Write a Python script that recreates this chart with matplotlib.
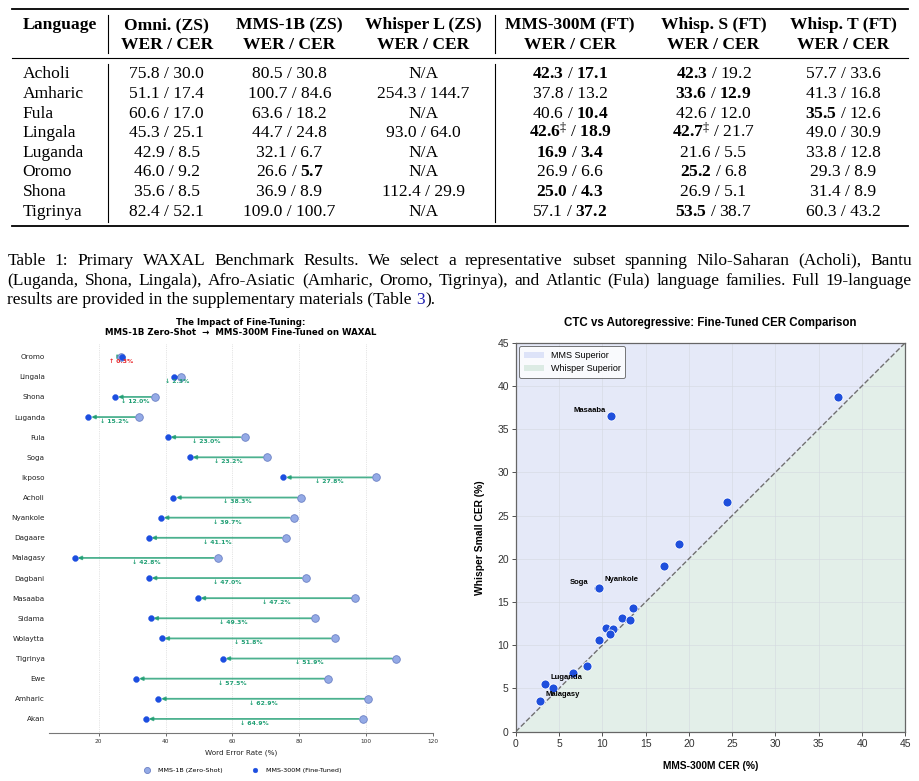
import numpy as np
import matplotlib
matplotlib.use('Agg')
import matplotlib.pyplot as plt
from matplotlib.patches import Patch

plt.rcParams['mathtext.fontset'] = 'custom'
plt.rcParams['mathtext.rm'] = 'Liberation Serif'
plt.rcParams['mathtext.bf'] = 'Liberation Serif:bold'
plt.rcParams['mathtext.it'] = 'Liberation Serif:italic'

# ---------------- table data ----------------
tbl_langs = ['Acholi', 'Amharic', 'Fula', 'Lingala', 'Luganda', 'Oromo', 'Shona', 'Tigrinya']
tbl_heads = ['Omni. (ZS)', 'MMS-1B (ZS)', 'Whisper L (ZS)', 'MMS-300M (FT)', 'Whisp. S (FT)', 'Whisp. T (FT)']
# '*' marks a bold number, '^' a double-dagger
omni = ['75.8 / 30.0', '51.1 / 17.4', '60.6 / 17.0', '45.3 / 25.1', '42.9 / 8.5', '46.0 / 9.2', '35.6 / 8.5', '82.4 / 52.1']
mms1b = ['80.5 / 30.8', '100.7 / 84.6', '63.6 / 18.2', '44.7 / 24.8', '32.1 / 6.7', '26.6 / *5.7', '36.9 / 8.9', '109.0 / 100.7']
whisper_l = ['N/A', '254.3 / 144.7', 'N/A', '93.0 / 64.0', 'N/A', 'N/A', '112.4 / 29.9', 'N/A']
mms300m = ['*42.3 / *17.1', '37.8 / 13.2', '40.6 / *10.4', '*42.6^ / *18.9', '*16.9 / *3.4', '26.9 / 6.6', '*25.0 / *4.3', '57.1 / *37.2']
whisp_s = ['*42.3 / 19.2', '*33.6 / *12.9', '42.6 / 12.0', '*42.7^ / 21.7', '21.6 / 5.5', '*25.2 / 6.8', '26.9 / 5.1', '*53.5 / 38.7']
whisp_t = ['57.7 / 33.6', '41.3 / 16.8', '*35.5 / 12.6', '49.0 / 30.9', '33.8 / 12.8', '29.3 / 8.9', '31.4 / 8.9', '60.3 / 43.2']
tbl_cols = [omni, mms1b, whisper_l, mms300m, whisp_s, whisp_t]

caption_lines = [
    'Table 1:  Primary WAXAL Benchmark Results.  We select a representative subset spanning Nilo-Saharan (Acholi), Bantu',
    '(Luganda, Shona, Lingala), Afro-Asiatic (Amharic, Oromo, Tigrinya), and Atlantic (Fula) language families. Full 19-language',
]
caption_last = ['results are provided in the supplementary materials (Table ', '3', ').']

# ---------------- dumbbell data ----------------
wer_langs = ['Oromo', 'Lingala', 'Shona', 'Luganda', 'Fula', 'Soga', 'Ikposo', 'Acholi', 'Nyankole',
             'Dagaare', 'Malagasy', 'Dagbani', 'Masaaba', 'Sidama', 'Wolaytta', 'Tigrinya', 'Ewe',
             'Amharic', 'Akan']
zs_wer = [26.6, 44.7, 36.9, 32.1, 63.6, 70.4, 103.0, 80.6, 78.3, 76.0, 55.6, 82.0, 96.8, 84.8, 90.6,
          109.0, 88.7, 100.7, 99.0]
ft_wer = [26.9, 42.4, 24.9, 16.9, 40.6, 47.2, 75.2, 42.3, 38.6, 34.9, 12.8, 35.0, 49.6, 35.5, 38.8,
          57.1, 31.2, 37.8, 34.1]

# ---------------- scatter data ----------------
cer_langs = ['Masaaba', 'Tigrinya', 'Ikposo', 'Lingala', 'Acholi', 'Soga', 'Nyankole', 'Akan', 'Ewe',
             'Amharic', 'Fula', 'Wolaytta', 'Sidama', 'Dagbani', 'Dagaare', 'Oromo', 'Luganda',
             'Shona', 'Malagasy']
cer_mms = [11.0, 37.2, 24.4, 18.9, 17.1, 9.5, 9.6, 13.6, 12.3, 13.2, 10.4, 11.2, 10.9, 9.6, 8.2,
           6.6, 3.4, 4.3, 2.8]
cer_whisper = [36.5, 38.7, 26.6, 21.7, 19.2, 16.6, 16.6, 14.3, 13.2, 12.9, 12.0, 11.9, 11.3, 10.6,
               7.6, 6.8, 5.5, 5.1, 3.5]
cer_notes = {'Masaaba': (-4, 4, 'right'), 'Soga': (-7, 4, 'right'), 'Nyankole': (4, 6, 'left'),
             'Luganda': (4, 5, 'left'), 'Malagasy': (4, 5, 'left')}

fig = plt.figure(figsize=(9.2, 7.81), dpi=100)
page = fig.add_axes([0, 0, 1, 1], zorder=-1)
page.set_xlim(0, 920)
page.set_ylim(781, 0)
page.axis('off')
r = fig.canvas.get_renderer()


def cell_text(s):
    if s == 'N/A':
        return s
    out = []
    for part in s.split(' / '):
        dag = part.endswith('^')
        part = part.rstrip('^')
        if part.startswith('*'):
            t = r'$\mathbf{' + part[1:] + '}' + (r'^{\ddag}' if dag else '') + '$'
        else:
            t = part + (r'$^{\ddag}$' if dag else '')
        out.append(t)
    return ' / '.join(out)


serif = 'Liberation Serif'
fs_tbl = 12.6
col_x = [166.7, 289.5, 423.5, 570, 713.5, 843.5]
row_base = 78.3 + 19.6 * np.arange(len(tbl_langs))

# rules
page.plot([12, 908], [8.5, 8.5], color='black', lw=1.3)
page.plot([12, 908], [58.3, 58.3], color='black', lw=0.8)
page.plot([12, 908], [225.7, 225.7], color='black', lw=1.3)
for vx in [108.3, 495]:
    page.plot([vx, vx], [15, 53], color='black', lw=0.8)
    page.plot([vx, vx], [64, 221.5], color='black', lw=0.8)

page.text(22.7, 29, 'Language', family=serif, weight='bold', fontsize=fs_tbl, va='baseline', ha='left')
for cx, h in zip(col_x, tbl_heads):
    page.text(cx, 29, h, family=serif, weight='bold', fontsize=fs_tbl, va='baseline', ha='center')
    page.text(cx, 49, 'WER / CER', family=serif, weight='bold', fontsize=fs_tbl, va='baseline', ha='center')
for ry, lang in zip(row_base, tbl_langs):
    page.text(22.7, ry, lang, family=serif, fontsize=fs_tbl, va='baseline', ha='left')
for cx, col in zip(col_x, tbl_cols):
    for ry, s in zip(row_base, col):
        page.text(cx, ry, cell_text(s), family=serif, fontsize=fs_tbl, va='baseline', ha='center')

# caption, justified
fs_cap = 12.5
cap_base = [264.7, 284.6]
for ly, line in zip(cap_base, caption_lines):
    words = line.split()
    texts = [page.text(0, ly, w, family=serif, fontsize=fs_cap, va='baseline') for w in words]
    widths = [t.get_window_extent(r).width for t in texts]
    gap = (912 - 7.5 - sum(widths)) / (len(words) - 1)
    x = 7.5
    for t, w in zip(texts, widths):
        t.set_x(x)
        x += w + gap
x = 7.5
for piece, c in zip(caption_last, ['black', '#1f1fb0', 'black']):
    t = page.text(x, 304.5, piece, family=serif, fontsize=fs_cap, va='baseline', color=c)
    x += t.get_window_extent(r).width

# ---------------- left: dumbbell ----------------
green = '#1f9e73'
ax1 = fig.add_axes([49 / 920, 1 - 733 / 781, 384 / 920, 390 / 781])
y = np.arange(len(wer_langs))
for i in range(len(wer_langs)):
    ax1.annotate('', xy=(ft_wer[i], y[i]), xytext=(zs_wer[i], y[i]),
                 arrowprops=dict(arrowstyle='-|>', color=green, lw=1.3, alpha=0.8,
                                 mutation_scale=5, shrinkA=3, shrinkB=2), zorder=2)
    d = zs_wer[i] - ft_wer[i]
    if d >= 0:
        lab, col = '\u2193 %.1f%%' % abs(d), green
    else:
        lab, col = '\u2191 %.1f%%' % abs(d), '#e8272b'
    ax1.text((zs_wer[i] + ft_wer[i]) / 2, y[i] + 0.22, lab, color=col, fontsize=4.4,
             weight='bold', ha='center', va='center', zorder=4)
ax1.scatter(zs_wer, y, s=30, color='#94aae6', edgecolor='#6b80c4', lw=0.6, zorder=3,
            label='MMS-1B (Zero-Shot)')
ax1.scatter(ft_wer, y, s=18, color='#1c4ee0', edgecolor='#1c4ee0', lw=0.3, zorder=3,
            label='MMS-300M (Fine-Tuned)')
ax1.set_yticks(y)
ax1.set_yticklabels(wer_langs, fontsize=5.2, color='#222222')
ax1.set_ylim(18.7, -0.68)
ax1.set_xlim(5.1, 120)
ax1.set_xticks([20, 40, 60, 80, 100, 120])
ax1.tick_params(axis='x', labelsize=4.2, colors='#333333', length=2, width=0.5, pad=2)
ax1.tick_params(axis='y', length=0, pad=3)
for s in ['top', 'right', 'left']:
    ax1.spines[s].set_visible(False)
ax1.spines['bottom'].set_color('#777777')
ax1.spines['bottom'].set_linewidth(0.8)
ax1.grid(axis='x', linestyle=':', color='#cccccc', lw=0.5)
ax1.set_axisbelow(True)
ax1.set_xlabel('Word Error Rate (%)', fontsize=5.2, color='#222222', labelpad=4)
ax1.set_title('The Impact of Fine-Tuning:\nMMS-1B Zero-Shot  \u2192  MMS-300M Fine-Tuned on WAXAL',
              fontsize=6.2, weight='bold', pad=6, linespacing=1.1)
ax1.legend(loc='center', bbox_to_anchor=(0.5, -0.095), ncol=2, frameon=False, fontsize=4.6,
           columnspacing=4, handletextpad=0.8, markerscale=0.8)

# ---------------- right: scatter ----------------
sans = 'Liberation Sans'
ax2 = fig.add_axes([515.7 / 920, 1 - 731.7 / 781, 389.6 / 920, 389 / 781])
ax2.fill_between([0, 45], [0, 45], [45, 45], color='#e5e9f8', zorder=0, lw=0)
ax2.fill_between([0, 45], [0, 0], [0, 45], color='#e3efe9', zorder=0, lw=0)
ax2.plot([0, 45], [0, 45], linestyle='--', color='#707070', lw=1.0, zorder=1)
ax2.scatter(cer_mms, cer_whisper, s=42, color='#1f4fdc', edgecolor='white', lw=0.6, zorder=3)
for name, xv, yv in zip(cer_langs, cer_mms, cer_whisper):
    if name in cer_notes:
        dx, dy, ha = cer_notes[name]
        ax2.annotate(name, (xv, yv), xytext=(dx, dy), textcoords='offset points', ha=ha,
                     va='center', fontsize=5.5, weight='bold', family=sans, zorder=4)
ax2.set_xlim(0, 45)
ax2.set_ylim(0, 45)
ax2.set_xticks(np.arange(0, 46, 5))
ax2.set_yticks(np.arange(0, 46, 5))
ax2.grid(color='#d4d8e0', lw=0.5, alpha=0.8)
ax2.set_axisbelow(True)
for s in ax2.spines.values():
    s.set_color('#666666')
    s.set_linewidth(0.9)
ax2.tick_params(labelsize=7.5, length=3, width=0.6, colors='#333333', pad=2)
for lab in ax2.get_xticklabels() + ax2.get_yticklabels():
    lab.set_family(sans)
ax2.set_xlabel('MMS-300M CER (%)', fontsize=7.4, weight='bold', family=sans, labelpad=9)
ax2.set_ylabel('Whisper Small CER (%)', fontsize=7.4, weight='bold', family=sans, labelpad=9)
ax2.set_title('CTC vs Autoregressive: Fine-Tuned CER Comparison', fontsize=8.3, weight='bold',
              family=sans, pad=12)
handles = [Patch(facecolor='#dde3f8', label='MMS Superior'),
           Patch(facecolor='#dcebe4', label='Whisper Superior')]
leg = ax2.legend(handles=handles, loc='upper left', prop={'family': sans, 'size': 6.5},
                 frameon=True, edgecolor='#555555', fancybox=True, borderpad=0.5,
                 handlelength=2.2, borderaxespad=0.4)
leg.get_frame().set_linewidth(0.7)

fig.savefig('out.png', dpi=100)
